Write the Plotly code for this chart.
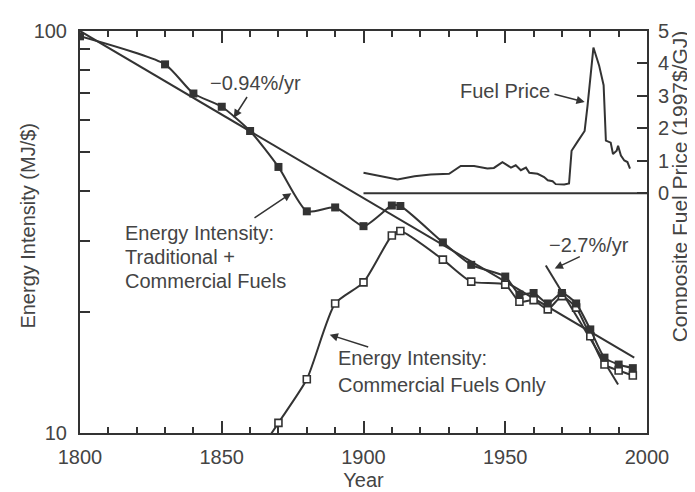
import plotly.graph_objects as go

# ---- data ----
years_total = [1800, 1830, 1840, 1850, 1860, 1870, 1880, 1890, 1900, 1910, 1913,
               1928, 1938, 1950, 1955, 1960, 1965, 1970, 1975, 1980, 1985, 1990, 1995]
intensity_total = [97.0, 82.6, 69.9, 64.8, 56.4, 45.9, 35.6, 36.4, 32.7, 36.8, 36.7,
                   29.8, 26.2, 24.5, 22.1, 22.3, 21.0, 22.3, 21.0, 18.1, 15.4, 14.8, 14.5]

years_comm = [1860, 1870, 1880, 1890, 1900, 1910, 1913, 1928, 1938, 1950, 1955,
              1960, 1965, 1970, 1975, 1980, 1985, 1990, 1995]
intensity_comm = [8.3, 10.6, 13.6, 21.0, 23.7, 31.0, 31.8, 27.0, 23.8, 23.4, 21.2,
                  21.4, 20.3, 21.9, 20.5, 17.4, 14.8, 14.3, 13.9]

price_years = [1900, 1912, 1918, 1923.7, 1930.2, 1932, 1934.3, 1939, 1943.7, 1946,
               1949, 1950.8, 1952, 1953.7, 1955.5, 1957.3, 1958.5, 1961.4, 1963.7,
               1965, 1966.7, 1967.8, 1970.8, 1972.5, 1973.4, 1975.5, 1978, 1979,
               1981.1, 1983.1, 1984.7, 1985.5, 1987.2, 1988, 1989.3, 1989.8, 1990.8,
               1992, 1993.1, 1994]
price_values = [0.63, 0.42, 0.52, 0.58, 0.60, 0.71, 0.84, 0.84, 0.76, 0.78,
                0.96, 0.86, 0.79, 0.86, 0.71, 0.79, 0.63, 0.60, 0.50,
                0.40, 0.37, 0.28, 0.27, 0.30, 1.31, 1.59, 1.92, 2.68,
                4.49, 3.94, 3.33, 1.62, 1.56, 1.21, 1.31, 1.46, 1.16,
                1.01, 0.96, 0.76]

trend_long_years = [1800, 1995.5]
trend_long_values = [100, 15.4]
trend_short_years = [1964.3, 1989.8]
trend_short_values = [26.1, 13.2]

x_ticks = [1800, 1850, 1900, 1950, 2000]
y_ticks = [10, 100]
y_minor = [20, 30, 40, 50, 60, 70, 80, 90]
y2_ticks = [0, 1, 2, 3, 4, 5]

# ---- styling ----
LINE = "#333333"
TEXT = "#444444"
FONT = "Liberation Sans, Arial, sans-serif"
FS = 20

W, H = 695, 492
ML, MR, MT, MB = 72, 56, 20, 63
PW, PH = W - ML - MR, H - MT - MB


def px(x):
    return (x - ML) / PW


def py(y):
    return (H - MB - y) / PH


fig = go.Figure()

fig.add_trace(go.Scatter(x=trend_long_years, y=trend_long_values, mode="lines",
                         line=dict(color=LINE, width=2), showlegend=False))
fig.add_trace(go.Scatter(x=trend_short_years, y=trend_short_values, mode="lines",
                         line=dict(color=LINE, width=2), showlegend=False))

fig.add_trace(go.Scatter(x=years_comm, y=intensity_comm, mode="lines+markers",
                         line=dict(color=LINE, width=2, shape="spline", smoothing=0.6),
                         marker=dict(symbol="square", size=7, color="white",
                                     line=dict(color=LINE, width=1.6)),
                         showlegend=False))
fig.add_trace(go.Scatter(x=years_total, y=intensity_total, mode="lines+markers",
                         line=dict(color=LINE, width=2, shape="spline", smoothing=0.6),
                         marker=dict(symbol="square", size=8, color=LINE),
                         showlegend=False))

fig.add_trace(go.Scatter(x=price_years, y=price_values, mode="lines", yaxis="y2",
                         line=dict(color=LINE, width=2), showlegend=False))

# zero line of the fuel price axis (spans only the price panel)
fig.add_shape(type="line", xref="x", yref="y2", x0=price_years[0], x1=2000, y0=0, y1=0,
              line=dict(color=LINE, width=2))

fig.update_layout(
    width=W, height=H,
    margin=dict(l=ML, r=MR, t=MT, b=MB, pad=0),
    paper_bgcolor="white", plot_bgcolor="white",
    font=dict(family=FONT, size=FS, color=TEXT),
    xaxis=dict(range=[1800, 2000], tickvals=x_ticks, ticks="inside", ticklen=12,
               tickwidth=1.5, tickcolor=LINE, showline=True, linecolor=LINE, linewidth=2,
               mirror="ticks", showgrid=False, zeroline=False, ticklabelstandoff=5,
               minor=dict(dtick=10, tick0=1800, ticks="inside", ticklen=6,
                          tickwidth=1.5, tickcolor=LINE, showgrid=False),
               title=dict(text="Year", standoff=6, font=dict(size=FS))),
    yaxis=dict(type="log", range=[1, 2], tickvals=y_ticks, ticktext=["10", "100"],
               ticks="inside", ticklen=10, tickwidth=1.5, tickcolor=LINE,
               showline=True, linecolor=LINE, linewidth=2, showgrid=False,
               zeroline=False, ticklabelstandoff=7,
               minor=dict(tickvals=y_minor, ticks="inside", ticklen=10, tickwidth=1.5,
                          tickcolor=LINE, showgrid=False)),
    yaxis2=dict(overlaying="y", side="right", range=[-7.39, 5], tickvals=y2_ticks,
                ticks="inside", ticklen=10, tickwidth=1.5, tickcolor=LINE,
                showline=True, linecolor=LINE, linewidth=2, showgrid=False,
                zeroline=False, ticklabelstandoff=5),
)

# axis titles for the two y axes (placed as rotated text)
fig.add_annotation(text="Energy Intensity (MJ/$)", xref="paper", yref="paper",
                   x=px(20), y=py(218), xanchor="center", yanchor="middle",
                   textangle=-90, showarrow=False,
                   font=dict(family=FONT, size=FS, color=TEXT))
fig.add_annotation(text="Composite Fuel Price (1997$/GJ)", xref="paper", yref="paper",
                   x=px(671), y=py(178), xanchor="center", yanchor="middle",
                   textangle=-90, showarrow=False,
                   font=dict(family=FONT, size=21, color=TEXT))

# text labels (pixel positions converted to paper coordinates)
texts = [
    ("\u22120.94%/yr", 247.5, 73, "center"),
    ("Fuel Price", 497, 81, "center"),
    ("\u22122.7%/yr", 580.5, 238, "center"),
    ("Energy Intensity:", 115, 226, "left"),
    ("Traditional +", 115, 250, "left"),
    ("Commercial Fuels", 115, 274, "left"),
    ("Energy Intensity:", 328, 353, "left"),
    ("Commercial Fuels Only", 328, 380, "left"),
]
for t, x, y, anc in texts:
    fig.add_annotation(text=t, xref="paper", yref="paper", x=px(x), y=py(y),
                       xanchor=anc, yanchor="middle", showarrow=False,
                       font=dict(family=FONT, size=FS, color=TEXT))

# arrows: (tail_x, tail_y, head_x, head_y) in pixels
arrows = [
    (240, 86, 225.7, 108.3),
    (245, 210.7, 283.3, 185),
    (361.7, 341.7, 321.7, 329),
    (545, 84, 576.7, 92.3),
    (573.3, 249, 546.7, 261.7),
]
for tx, ty, hx, hy in arrows:
    fig.add_annotation(text="", xref="paper", yref="paper", x=px(hx), y=py(hy),
                       ax=tx - hx, ay=ty - hy, showarrow=True, arrowhead=2,
                       arrowsize=1.1, arrowwidth=1.5, arrowcolor=LINE)

fig.write_html("out.html")
